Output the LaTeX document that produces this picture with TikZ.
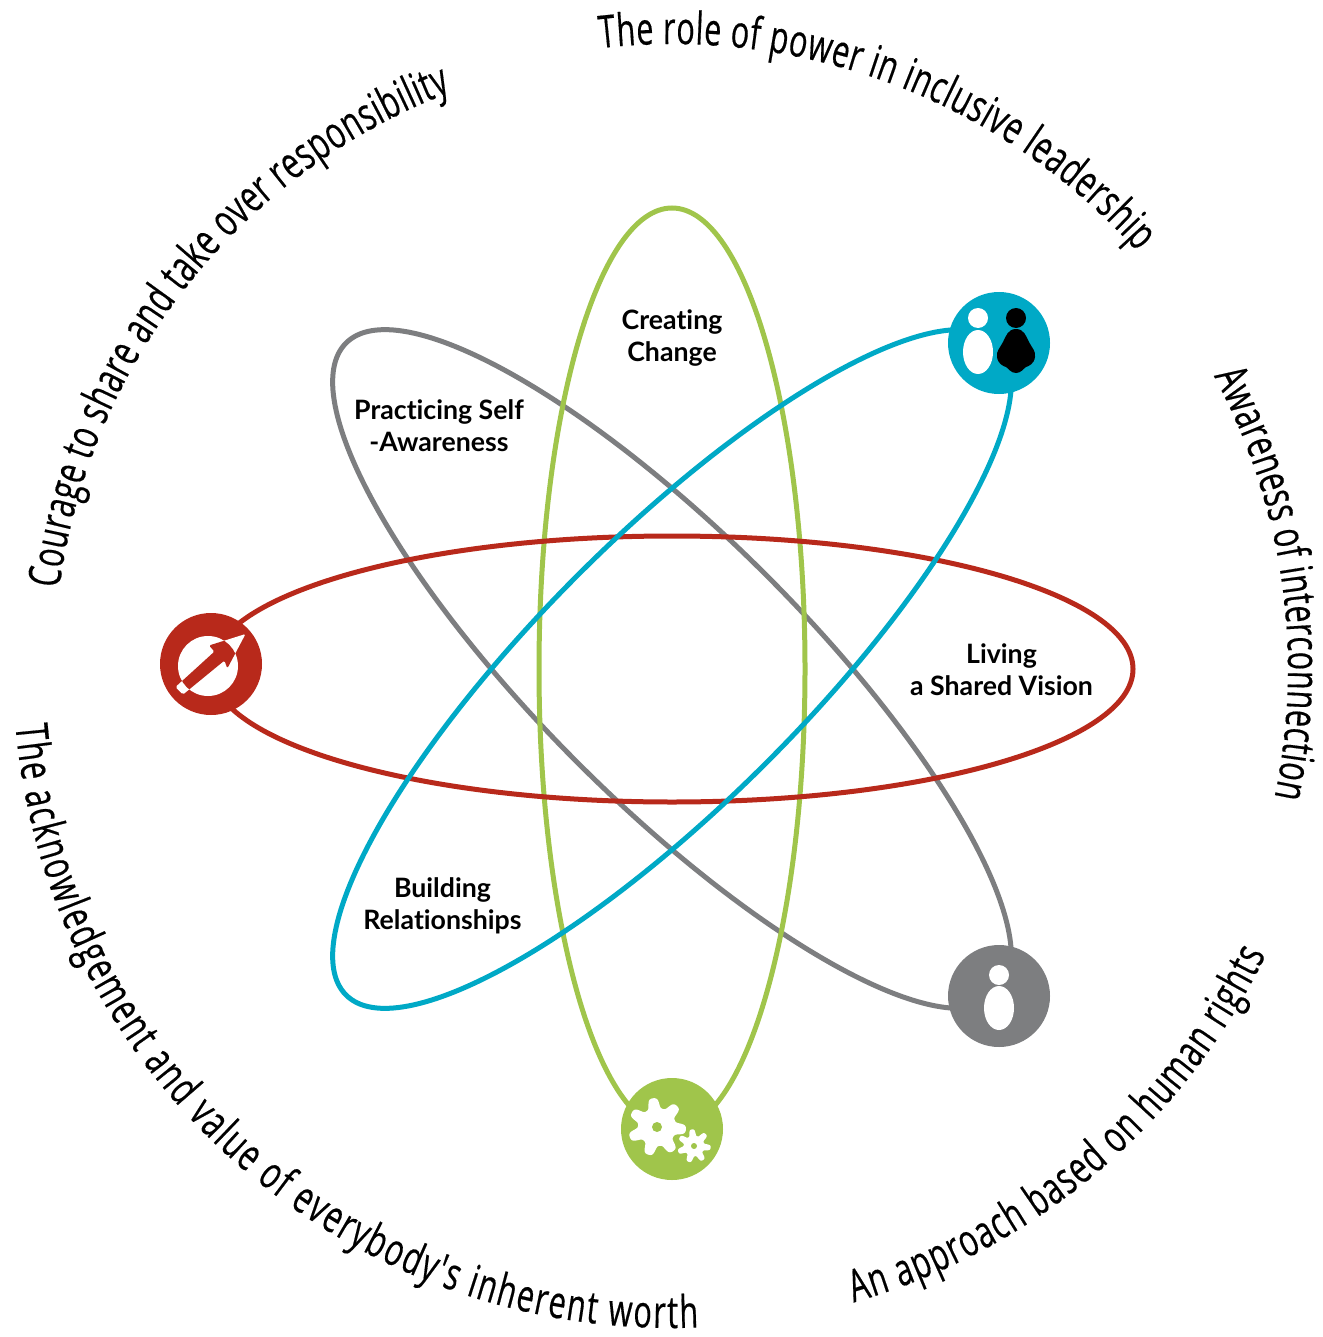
\documentclass[tikz,border=0pt]{standalone}
\usepackage{fontspec}
\usetikzlibrary{decorations.text}
\setmainfont[Ligatures=NoCommon]{Lato}
\newfontfamily\arcfont[FakeStretch=0.68,FakeBold=0.35]{Open Sans}
\definecolor{ored}{HTML}{B8291B}
\definecolor{ogreen}{HTML}{A0C54B}
\definecolor{oblue}{HTML}{00A9C6}
\definecolor{ogray}{HTML}{7D7E80}
\tikzset{
  orbit/.style={line width=5pt},
  disc/.style={circle,inner sep=0pt,minimum size=102pt,fill=#1},
  lab/.style={font=\fontsize{26.7}{32}\selectfont\bfseries,align=center,text=black,inner sep=0pt},
  arctext/.style={decorate,decoration={text along path,text align={fit to path},text={|\arcfont\fontsize{45}{50}\selectfont|#1}}}
}
\begin{document}
\begin{tikzpicture}[x=1pt,y=1pt]
\useasboundingbox (0,0) rectangle (1322,-1337);
\coordinate (c) at (672,-669);
% orbits
\draw[orbit,ogray] (c) circle[x radius=461pt,y radius=133pt,rotate=-45];
\draw[orbit,ogreen] (c) circle[x radius=133pt,y radius=461pt];
\draw[orbit,ored] (c) circle[x radius=461pt,y radius=133pt];
\draw[orbit,oblue] (c) circle[x radius=461pt,y radius=133pt,rotate=45];
% discs
\node[disc=ored] (redd) at (211,-664) {};
\node[disc=oblue] (blued) at (999,-343) {};
\node[disc=ogray] (grayd) at (999,-996) {};
\node[disc=ogreen] (greend) at (672,-1129) {};
% red icon
\fill[white] (208,-666) circle (30pt);
\def\arrowpath{(175.5,-687) -- (183,-694.5) -- (224.5,-660.5) -- (227.3,-668.5) -- (245.5,-634) -- (209,-645.5) -- (214.5,-651.5) -- cycle}
\fill[white,rounded corners=1.5pt] \arrowpath;
\begin{scope}
\clip (208,-666) circle (30pt);
\fill[ored,rounded corners=1.5pt] \arrowpath;
\end{scope}
% blue icon
\fill[white] (978,-318) circle (10pt);
\fill[white] (978,-352) ellipse [x radius=15pt,y radius=22pt];
\fill[black] (1016,-318) circle (10pt);
\fill[black] (1016,-329) .. controls (1024,-329) and (1026,-336) .. (1029,-342)
  .. controls (1032,-348) and (1036,-351) .. (1035,-357)
  .. controls (1034,-364) and (1029,-366) .. (1026,-367)
  .. controls (1023,-369) and (1021,-373) .. (1016,-373)
  .. controls (1011,-373) and (1009,-369) .. (1006,-367)
  .. controls (1003,-366) and (998,-364) .. (997,-357)
  .. controls (996,-351) and (1000,-348) .. (1003,-342)
  .. controls (1006,-336) and (1008,-329) .. (1016,-329) -- cycle;
% gray icon
\fill[white] (999,-975) circle (10pt);
\fill[white] (999,-1008) ellipse [x radius=15pt,y radius=22pt];
% green icon
\fill[white] plot[domain=0:360,samples=281,smooth] ({657+(24+5*tanh(1.6*cos(7*(\x-98)))/0.92)*cos(\x)},{-1127+(24+5*tanh(1.6*cos(7*(\x-98)))/0.92)*sin(\x)});
\fill[ogreen] (657,-1127) circle (5pt);
\fill[white] plot[domain=0:360,samples=281,smooth] ({694+(13.5+3.2*tanh(1.6*cos(7*(\x-97)))/0.92)*cos(\x)},{-1146+(13.5+3.2*tanh(1.6*cos(7*(\x-97)))/0.92)*sin(\x)});
\fill[ogreen] (694,-1146) circle (3pt);
% labels
\node[lab] (creating) at (672,-338.5) {Creating\\Change};
\node[lab] (practicing) at (439,-426) {Practicing Self\\-Awareness};
\node[lab] (living) at (1001.5,-669.5) {Living\\a Shared Vision};
\node[lab] (building) at (442.5,-906) {Building\\Relationships};
% arc texts
\path[arctext={The role of power in inclusive leadership}] ([shift={(c)}]96.6:625pt) arc[start angle=96.6,end angle=41.9,radius=625pt];
\path[arctext={Awareness of interconnection}] ([shift={(c)}]28.4:616pt) arc[start angle=28.4,end angle=-12,radius=616pt];
\path[arctext={Courage to share and take over responsibility}] ([shift={(c)}]172.5:618pt) arc[start angle=172.5,end angle=111,radius=618pt];
\path[arctext={An approach based on human rights}] ([shift={(c)}]-74:659pt) arc[start angle=-74,end angle=-25.7,radius=659pt];
\path[arctext={The acknowledgement and value of everybody's inherent worth}] ([shift={(c)}]184.9:659pt) arc[start angle=184.9,end angle=272.2,radius=659pt];
\end{tikzpicture}
\end{document}
